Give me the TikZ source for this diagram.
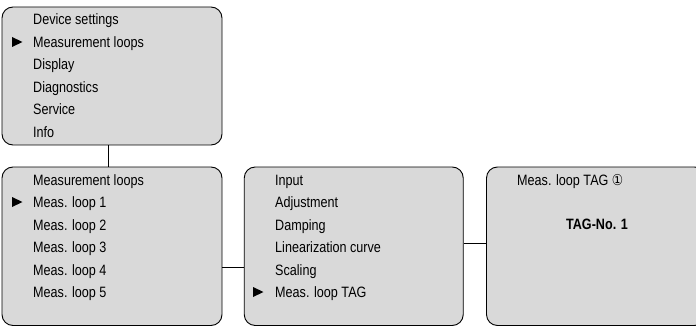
\documentclass[tikz,border=0pt]{standalone}
\usepackage{fontspec}
\setmainfont{Liberation Sans}[FakeStretch=0.84]
\newfontfamily\symfont{DejaVu Sans}[FakeStretch=0.84]
\usepackage{tikz}
\definecolor{panel}{RGB}{217,217,217}
\tikzset{
	menubox/.style={draw, fill=panel, line width=0.9pt, rounded corners=11pt, inner sep=0pt, minimum height=158.5pt, minimum width=219pt},
	item/.style={anchor=base west, inner sep=0pt, font=\fontsize{15}{18}\selectfont}
}

\begin{document}
\begin{tikzpicture}[x=1pt, y=-1pt]
		\useasboundingbox (0,0) rectangle (696,326);
		\clip (0,0) rectangle (696,326);
		\def\pointer#1#2{\fill (#1,#2-10.5) -- (#1+10.5,#2-5.5) -- (#1,#2-0.5) -- cycle;}
		% the four menu windows
		\node[menubox, minimum width=220pt, minimum height=138pt] (main) at (112,76) {};
		\node[menubox, minimum width=220pt] (loops) at (112,246.25) {};
		\node[menubox] (loop) at (353.75,246.25) {};
		\node[menubox] (tag) at (596,246.25) {};
		\draw[line width=0.9pt] ([xshift=-4pt]main.south) -- ([xshift=-4pt]loops.north);
		\draw[line width=0.9pt] ([yshift=-21pt]loops.east) -- ([yshift=-21pt]loop.west);
		\draw[line width=0.9pt] ([yshift=3pt]loop.east) -- ([yshift=3pt]tag.west);
		% menu entries
		\foreach \txt [count=\i] in {Device settings, Measurement loops, Display, Diagnostics, Service, Info}
			\node[item] (a\i) at (33,25+22.5*\i-22.5) {\txt};
		\foreach \txt [count=\i] in {Measurement loops, Meas. loop 1, Meas. loop 2, Meas. loop 3, Meas. loop 4, Meas. loop 5}
			\node[item] (b\i) at (33,185+22.5*\i-22.5) {\txt};
		\foreach \txt [count=\i] in {Input, Adjustment, Damping, Linearization curve, Scaling, Meas. loop TAG}
			\node[item] (c\i) at (275,185+22.5*\i-22.5) {\txt};
		\node[item] (d1) at (517,185) {Meas. loop TAG {\symfont\char"2460}};
		\node[item, anchor=base, font=\fontsize{15}{18}\selectfont\bfseries] (d2) at (597,229) {TAG-No. 1};
		% selection marks
		\pointer{12}{47.5}
		\pointer{12}{207.5}
		\pointer{253}{297.5}
	\end{tikzpicture}
\end{document}
